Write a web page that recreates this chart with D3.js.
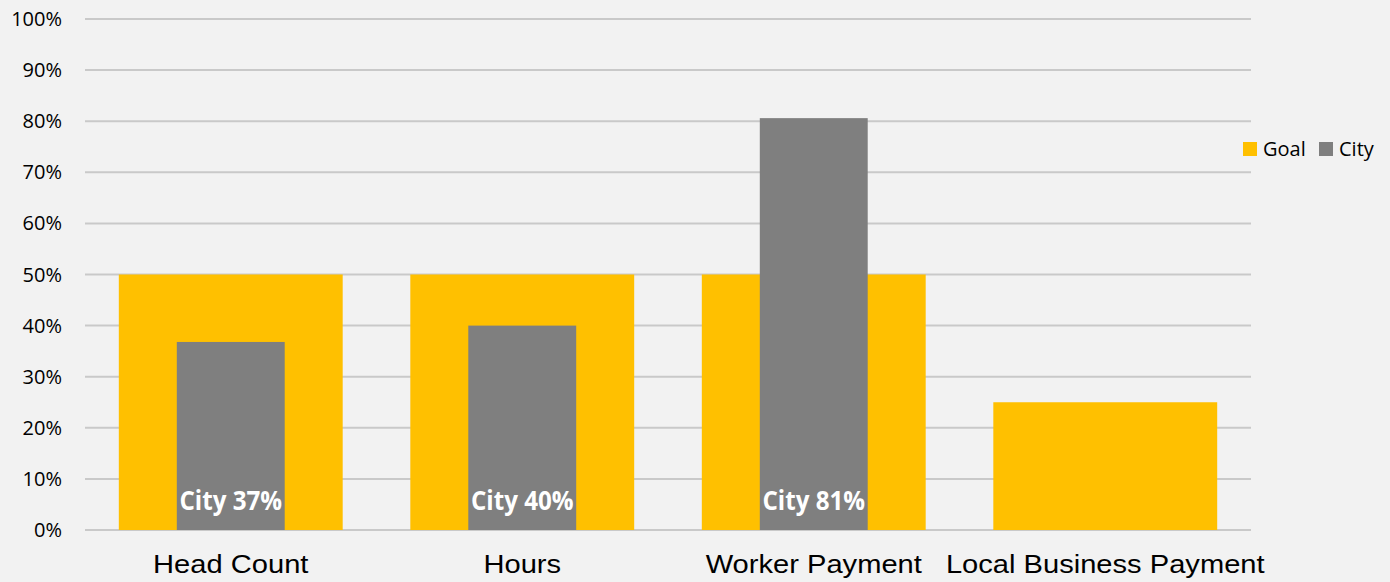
<html>
<head>
<script src="https://d3js.org/d3.v7.min.js"></script>
<style>
  body { margin: 0; background: #f2f2f2; }
  text { font-family: "Open Sans", sans-serif; }
</style>
</head>
<body>
<script>

var categories = ["Head Count", "Hours", "Worker Payment", "Local Business Payment"];
var goal = [50, 50, 50, 25];
var city = [36.8, 40, 80.6, null];
var yTicks = [0, 10, 20, 30, 40, 50, 60, 70, 80, 90, 100];
var seriesNames = ["Goal", "City"];

var width = 1390, height = 582;
var plot = {left: 85, right: 1251, top: 19, bottom: 530};

var svg = d3.select("body").append("svg")
            .attr("width", width)
            .attr("height", height)
            .style("background", "#f2f2f2");

var x = d3.scaleBand()
          .domain(categories)
          .range([plot.left, plot.right])
          .paddingInner(0.232)
          .paddingOuter(0.116);

var y = d3.scaleLinear()
          .domain([0, 100])
          .range([plot.bottom, plot.top]);

var color = d3.scaleOrdinal()
              .domain(seriesNames)
              .range(["#ffc000", "#7f7f7f"]);

// gridlines
svg.selectAll(".grid")
   .data(yTicks)
   .enter().append("line")
   .attr("x1", plot.left)
   .attr("x2", plot.right)
   .attr("y1", function(d) { return y(d); })
   .attr("y2", function(d) { return y(d); })
   .attr("stroke", "#c9c9c9")
   .attr("stroke-width", 2);

// y tick labels
svg.selectAll(".ytick")
   .data(yTicks)
   .enter().append("text")
   .attr("x", 62)
   .attr("y", function(d) { return y(d); })
   .attr("dy", "0.35em")
   .attr("text-anchor", "end")
   .style("font-size", "20px")
   .attr("fill", "#000")
   .text(function(d) { return d + "%"; });

// goal bars
svg.selectAll(".goal")
   .data(categories)
   .enter().append("rect")
   .attr("x", function(d) { return x(d); })
   .attr("width", x.bandwidth())
   .attr("y", function(d, i) { return y(goal[i]); })
   .attr("height", function(d, i) { return y(0) - y(goal[i]); })
   .attr("fill", color("Goal"));

// city bars
var cityW = x.bandwidth() * 0.482;
var cityData = categories.map(function(c, i) { return {cat: c, v: city[i]}; })
                         .filter(function(d) { return d.v != null; });

svg.selectAll(".city")
   .data(cityData)
   .enter().append("rect")
   .attr("x", function(d) { return x(d.cat) + (x.bandwidth() - cityW) / 2; })
   .attr("width", cityW)
   .attr("y", function(d) { return y(d.v); })
   .attr("height", function(d) { return y(0) - y(d.v); })
   .attr("fill", color("City"));

svg.selectAll(".citylabel")
   .data(cityData)
   .enter().append("text")
   .attr("transform", function(d) {
       return "translate(" + (x(d.cat) + x.bandwidth() / 2) + "," + (y(0) - 20) + ") scale(0.93,1)";
   })
   .attr("text-anchor", "middle")
   .style("font-size", "26px")
   .style("font-weight", "bold")
   .attr("fill", "#fff")
   .text(function(d) { return "City " + Math.round(d.v) + "%"; });

// category labels
svg.selectAll(".xlabel")
   .data(categories)
   .enter().append("text")
   .attr("transform", function(d) {
       return "translate(" + (x(d) + x.bandwidth() / 2) + ",573) scale(1.12,1)";
   })
   .attr("text-anchor", "middle")
   .style("font-family", "'Liberation Sans', Arial, sans-serif")
   .style("font-size", "26px")
   .attr("fill", "#000")
   .text(function(d) { return d; });

// legend
var legend = svg.selectAll(".legend")
   .data(seriesNames)
   .enter().append("g")
   .attr("transform", function(d, i) { return "translate(" + (1243 + i * 76) + ",142)"; });

legend.append("rect")
   .attr("width", 14)
   .attr("height", 14)
   .attr("fill", function(d) { return color(d); });

legend.append("text")
   .attr("x", 20)
   .attr("y", 7)
   .attr("dy", "0.35em")
   .style("font-size", "20px")
   .attr("fill", "#000")
   .text(function(d) { return d; });

</script>
</body>
</html>
